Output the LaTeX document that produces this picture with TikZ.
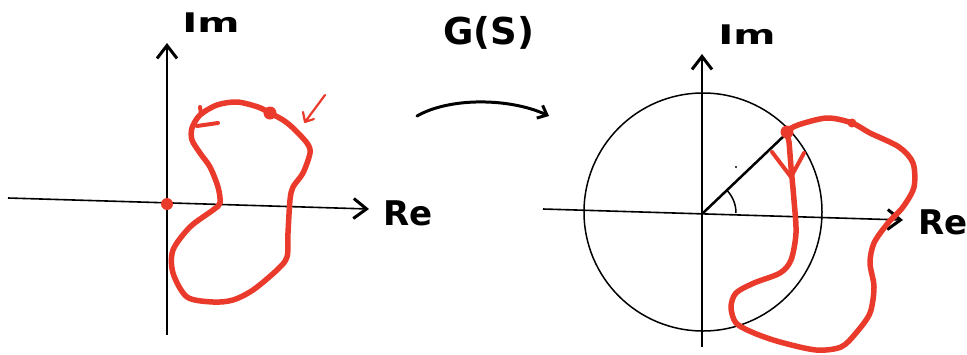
\documentclass[tikz,border=0pt]{standalone}
\usepackage{fontspec}
\setmainfont{DejaVu Sans}
\usepackage{tikz}
\usetikzlibrary{arrows.meta}
\definecolor{sketchred}{HTML}{E93A2B}

\begin{document}
\begin{tikzpicture}[x=1pt, y=-1pt,
    axis/.style={line width=1.6pt},
    axistip/.style={-{Straight Barb[length=13pt, width=20pt, line width=3pt]}},
    loop/.style={sketchred, line width=5.5pt, line cap=round, line join=round},
    lbl/.style={inner sep=0pt, font=\bfseries}]
    \useasboundingbox (0,0) rectangle (967,354);

    % Left plane: axes
    \draw[axis, axistip] (8,198) -- (369,209);
    \draw[axis, axistip] (167,335) -- (167,43);
    \node[lbl, xscale=1.5, font=\fontsize{27}{27}\selectfont\bfseries] (imL) at (211,23) {Im};
    \node[lbl, font=\fontsize{34}{34}\selectfont\bfseries] (reL) at (408,213) {Re};

    % Closed contour in the s-plane
    \draw[loop] plot[smooth cycle] coordinates {(270,113) (258,107) (237,102) (217,105)
        (200,115) (192,128) (192,140) (200,153) (210,167) (218,187) (220,203) (213,210)
        (190,227) (173,250) (173,273) (187,297) (213,302) (233,300) (253,290) (277,270)
        (287,257) (288,233) (290,200) (293,187) (303,173) (310,153) (307,143) (293,128)
        (283,120)};
    \draw[loop, line width=4pt] (200,107) -- (201,114);
    \draw[loop, line width=4pt] (197,126) -- (218,123);
    \fill[sketchred] (270,113) circle (6.5);
    \fill[sketchred] (167,204) circle (6);

    % Small pointer to the start point
    \draw[sketchred, line width=2.2pt, line cap=round, line join=round]
        (325,95) -- (305,122) (303,112) -- (305,122) -- (314,119);

    % Mapping arrow
    \node[lbl, font=\fontsize{37}{37}\selectfont\bfseries] (gs) at (489,33) {G(S)};
    \draw[line width=3pt, line cap=round, -{Straight Barb[length=8pt, width=14pt, line width=3pt]}]
        (417,116) .. controls (450,97) and (510,98) .. (549,116);

    % Right plane: axes and unit circle
    \draw[axis, axistip] (543,209) -- (903,220);
    \draw[axis, axistip] (702,347) -- (702,54);
    \node[lbl, xscale=1.5, font=\fontsize{27}{27}\selectfont\bfseries] (imR) at (747,35) {Im};
    \node[lbl, font=\fontsize{34}{34}\selectfont\bfseries] (reR) at (943,222) {Re};
    \draw[line width=1.5pt] (703,212) circle (119);

    % Vector to the curve and its angle
    \draw[line width=2.5pt] (703,213) -- (787,133);
    \draw[line width=1.5pt] (736,213) arc[start angle=0, end angle=-43, radius=33];
    \fill (736,167) circle (1.2);

    % Image of the contour
    \draw[loop] plot[smooth cycle] coordinates {(787,132) (798,125) (827,118) (852,123)
        (870,133) (899,147) (913,163) (914,187) (903,207) (888,223) (874,243) (870,263)
        (874,287) (870,313) (856,333) (841,347) (816,350) (780,342) (754,333) (736,323)
        (731,307) (736,293) (754,283) (780,273) (791,260) (796,233) (794,200) (791,167)
        (789,142)};
    \draw[loop, line width=4pt] (772,152) -- (791,177) -- (804,153);
    \fill[sketchred] (787,132) circle (6.5);
    \fill[sketchred] (852,123) circle (4.5);
\end{tikzpicture}
\end{document}
